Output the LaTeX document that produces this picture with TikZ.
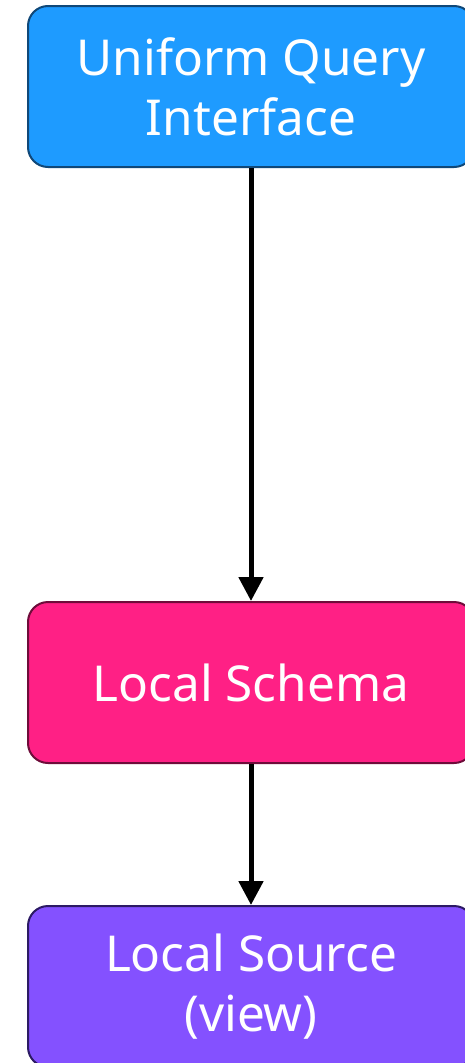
\documentclass[tikz,border=0pt]{standalone}
\usepackage{fontspec}
\setmainfont{Noto Sans}
\usetikzlibrary{arrows.meta}
\definecolor{blueFill}{RGB}{30,155,255}
\definecolor{blueLine}{RGB}{16,72,120}
\definecolor{pinkFill}{RGB}{255,32,133}
\definecolor{pinkLine}{RGB}{110,12,58}
\definecolor{purpFill}{RGB}{132,81,255}
\definecolor{purpLine}{RGB}{44,26,100}
\tikzset{
  box/.style={draw, line width=2pt, rounded corners=20pt, minimum width=446pt, minimum height=161pt,
    text=white, align=center, inner sep=0pt, font=\fontsize{49.5}{60}\selectfont},
  conn/.style={line width=5pt, -{Triangle[length=24pt,width=24pt]}}
}
\begin{document}
\begin{tikzpicture}[x=1pt,y=1pt]
\useasboundingbox (0,0) rectangle (464,-1063);
\node[box, fill=blueFill, draw=blueLine] (uqi) at (251,-86.5) {Uniform Query\\Interface};
\node[box, fill=pinkFill, draw=pinkLine] (ls) at (251,-682.5) {Local Schema};
\node[box, fill=purpFill, draw=purpLine] (src) at (251,-986.5) {Local Source\\(view)};
\draw[conn] (uqi) -- (ls);
\draw[conn] (ls) -- (src);
\end{tikzpicture}
\end{document}
